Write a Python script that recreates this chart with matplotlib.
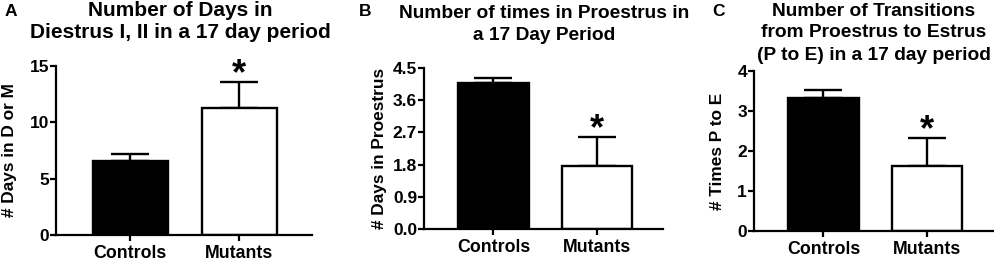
import numpy as np
import matplotlib
matplotlib.use('Agg')
from matplotlib import pyplot as plt

plt.rcParams['font.family'] = ['Liberation Sans', 'DejaVu Sans']
plt.rcParams['font.weight'] = 'bold'

# data
groups = ['Controls', 'Mutants']
days_diestrus = [6.57, 11.27]
days_diestrus_err = [0.62, 2.31]
days_proestrus = [4.08, 1.76]
days_proestrus_err = [0.14, 0.81]
p_to_e = [3.33, 1.63]
p_to_e_err = [0.19, 0.69]

W, H = 995, 262
fig = plt.figure(figsize=(W / 100, H / 100), dpi=100)


def px_axes(left, top, right, bottom):
    return fig.add_axes([left / W, 1 - bottom / H, (right - left) / W, (bottom - top) / H])


def draw_panel(ax, vals, errs, ylim, yticks, fmt, xlim, ylabel, ylab_x):
    x = np.arange(len(groups))
    ax.errorbar(x, vals, yerr=[np.zeros(len(vals)), errs], fmt='none',
                ecolor='black', elinewidth=1.7, capsize=13.5, capthick=1.7, zorder=1)
    ax.bar(x, vals, width=0.685, color=['black', 'white'], edgecolor='black',
           linewidth=1.7, zorder=2)
    ax.set_xlim(*xlim)
    ax.set_ylim(*ylim)
    ax.set_yticks(yticks)
    ax.set_yticklabels([fmt.format(t) for t in yticks], fontsize=12.5, fontweight='bold')
    ax.set_xticks(x)
    ax.set_xticklabels(groups, fontsize=12.8, fontweight='bold')
    for s in ['top', 'right']:
        ax.spines[s].set_visible(False)
    for s in ['left', 'bottom']:
        ax.spines[s].set_linewidth(1.6)
    ax.tick_params(axis='both', width=1.6, length=4.5, pad=0.5)
    ax.tick_params(axis='x', pad=3)
    ax.set_ylabel(ylabel, fontsize=12.4, fontweight='bold')
    ax.yaxis.set_label_coords(ylab_x, 0.5)
    # significance star above mutants
    top = vals[1] + errs[1]
    ax.annotate('*', (1, top), xytext=(0, -7.5), textcoords='offset points',
                ha='center', va='bottom', fontsize=26, fontweight='bold')
    ax.patch.set_alpha(0)


axA = px_axes(56, 66, 312, 235)
draw_panel(axA, days_diestrus, days_diestrus_err, (0, 15), [0, 5, 10, 15], '{:g}',
           (-0.682, 1.668), '# Days in D or M', -0.153)
axB = px_axes(424, 68, 663, 229)
draw_panel(axB, days_proestrus, days_proestrus_err, (0, 4.5),
           [0, 0.9, 1.8, 2.7, 3.6, 4.5], '{:.1f}', (-0.671, 1.638), '# Days in Proestrus', -0.155)
axC = px_axes(754, 71, 995, 231)
draw_panel(axC, p_to_e, p_to_e_err, (0, 4), [0, 1, 2, 3, 4], '{:g}',
           (-0.671, 1.657), '# Times P to E', -0.12)


def ftext(x, y, s, size=13.8, ha='center'):
    fig.text(x / W, 1 - y / H, s, ha=ha, va='center', fontsize=size, fontweight='bold')


# panel letters
ftext(5, 12, 'A', 12.5, 'left')
ftext(359, 12, 'B', 12.5, 'left')
ftext(712, 12, 'C', 12.5, 'left')

# titles
ftext(180, 11, 'Number of Days in', 15)
ftext(180, 33, 'Diestrus I, II in a 17 day period', 15)
ftext(544, 14, 'Number of times in Proestrus in')
ftext(544, 36, 'a 17 Day Period')
ftext(874, 11, 'Number of Transitions')
ftext(874, 33, 'from Proestrus to Estrus')
ftext(874, 55, '(P to E) in a 17 day period')

fig.savefig('out.png', dpi=100)
